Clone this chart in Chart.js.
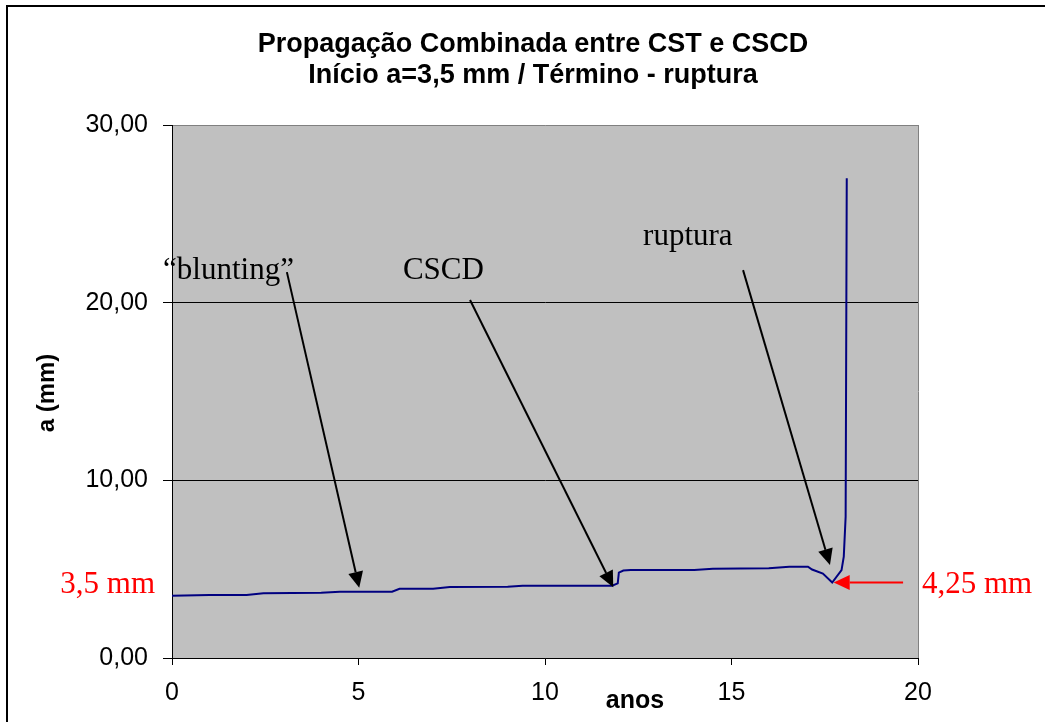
<!DOCTYPE html>
<html>
<head>
<meta charset="utf-8">
<script src="https://cdn.jsdelivr.net/npm/chart.js@4.4.1/dist/chart.umd.min.js"></script>
<style>
  html, body { margin: 0; padding: 0; background: #fff; }
  canvas { display: block; }
</style>
</head>
<body>
<canvas id="grafico" width="1045" height="722"></canvas>
<script>
// tempo (anos) e tamanho da trinca a (mm)
const anos = [0, 1.0, 2.0, 2.45, 4.0, 4.5, 5.9, 6.1, 7.0, 7.45, 9.0, 9.4, 11.8, 11.95, 11.98, 12.1, 12.3, 14.0, 14.5, 16.0, 16.55, 17.05, 17.16, 17.45, 17.7, 17.95, 18.01, 18.06, 18.09]
const trinca = [3.5, 3.55, 3.55, 3.65, 3.67, 3.73, 3.73, 3.9, 3.9, 4.0, 4.01, 4.07, 4.07, 4.2, 4.8, 4.92, 4.95, 4.95, 5.03, 5.05, 5.14, 5.14, 4.98, 4.75, 4.25, 4.95, 5.7, 7.95, 27.0]

const ticksX = [0, 5, 10, 15, 20]
const ticksY = [0, 10, 20, 30]

const titulo = ['Propagação Combinada entre CST e CSCD', 'Início a=3,5 mm / Término - ruptura']

const aInicial = 3.5
const aRuptura = 4.25

// setas pretas: texto, ponto de partida e ponta (em unidades dos eixos)
const setas = [
  { texto: '“blunting”', tx: -0.24, ty: 21.33, x0: 3.08, y0: 21.72, x1: 5.02, y1: 3.95 },
  { texto: 'CSCD', tx: 6.19, ty: 21.33, x0: 7.99, y0: 20.15, x1: 11.83, y1: 3.98 },
  { texto: 'ruptura', tx: 12.63, ty: 23.24, x0: 15.31, y0: 21.83, x1: 17.64, y1: 5.23 }
]

const sans = '"Liberation Sans", Arial, sans-serif'
const serif = '"Liberation Serif", "Times New Roman", serif'

function virgula(v, casas) {
  return v.toFixed(casas).replace('.', ',')
}

function seta(ctx, x0, y0, x1, y1, cor) {
  const ang = Math.atan2(y1 - y0, x1 - x0)
  const comp = 16, meia = 7.5
  const bx = x1 - comp * Math.cos(ang), by = y1 - comp * Math.sin(ang)
  ctx.strokeStyle = cor
  ctx.fillStyle = cor
  ctx.lineWidth = 2
  ctx.beginPath()
  ctx.moveTo(x0, y0)
  ctx.lineTo(bx, by)
  ctx.stroke()
  ctx.beginPath()
  ctx.moveTo(x1, y1)
  ctx.lineTo(bx + meia * Math.sin(ang), by - meia * Math.cos(ang))
  ctx.lineTo(bx - meia * Math.sin(ang), by + meia * Math.cos(ang))
  ctx.closePath()
  ctx.fill()
}

const fundo = {
  id: 'fundo',
  beforeDraw(chart) {
    const { ctx, chartArea: a } = chart
    ctx.save()
    ctx.fillStyle = '#c0c0c0'
    ctx.fillRect(a.left, a.top, a.right - a.left, a.bottom - a.top)
    ctx.restore()
  },
  afterDraw(chart) {
    const { ctx, chartArea: a, scales } = chart
    const sx = scales.x, sy = scales.y
    ctx.save()

    // moldura externa
    ctx.strokeStyle = '#000'
    ctx.lineWidth = 2
    ctx.beginPath()
    ctx.moveTo(7, chart.height)
    ctx.lineTo(7, 6)
    ctx.lineTo(chart.width, 6)
    ctx.stroke()

    // borda direita da área do gráfico
    ctx.strokeStyle = '#808080'
    ctx.lineWidth = 1
    ctx.beginPath()
    ctx.moveTo(a.right + 0.5, a.top)
    ctx.lineTo(a.right + 0.5, a.bottom)
    ctx.stroke()

    // título
    ctx.fillStyle = '#000'
    ctx.textAlign = 'center'
    ctx.textBaseline = 'middle'
    ctx.font = 'bold 27px ' + sans
    ctx.fillText(titulo[0], 533, 45)
    ctx.fillText(titulo[1], 533, 76)

    // títulos dos eixos
    ctx.font = 'bold 25px ' + sans
    ctx.fillText('anos', 635, 701)
    ctx.save()
    ctx.translate(47, 393)
    ctx.rotate(-Math.PI / 2)
    ctx.font = 'bold 24px ' + sans
    ctx.fillText('a (mm)', 0, 0)
    ctx.restore()

    // anotações com setas
    ctx.textAlign = 'left'
    ctx.textBaseline = 'alphabetic'
    ctx.font = '31px ' + serif
    setas.forEach(s => {
      ctx.fillStyle = '#000'
      ctx.fillText(s.texto, sx.getPixelForValue(s.tx), sy.getPixelForValue(s.ty))
      seta(ctx, sx.getPixelForValue(s.x0), sy.getPixelForValue(s.y0),
        sx.getPixelForValue(s.x1), sy.getPixelForValue(s.y1), '#000')
    })

    // valores inicial e de ruptura
    ctx.fillStyle = '#ff0000'
    ctx.textAlign = 'right'
    ctx.fillText(virgula(aInicial, 1) + ' mm', a.left - 17, 593)
    ctx.textAlign = 'left'
    ctx.fillText(virgula(aRuptura, 2) + ' mm', a.right + 4, 593)
    const yr = sy.getPixelForValue(aRuptura)
    seta(ctx, sx.getPixelForValue(19.6), yr, sx.getPixelForValue(17.74), yr, '#ff0000')

    ctx.restore()
  }
}

new Chart(document.getElementById('grafico'), {
  type: 'scatter',
  data: {
    datasets: [{
      data: anos.map((x, i) => ({ x, y: trinca[i] })),
      showLine: true,
      borderColor: '#000080',
      borderWidth: 2,
      pointRadius: 0,
      tension: 0
    }]
  },
  options: {
    responsive: false,
    animation: false,
    devicePixelRatio: 1,
    layout: { padding: { top: 125, right: 127, left: 0, bottom: 0 } },
    plugins: {
      legend: { display: false },
      tooltip: { enabled: false }
    },
    scales: {
      x: {
        type: 'linear',
        min: 0,
        max: 20,
        afterFit: s => { s.height = 64 },
        afterBuildTicks: s => { s.ticks = ticksX.map(v => ({ value: v })) },
        border: { display: true, color: '#000', width: 1 },
        grid: { drawOnChartArea: false, drawTicks: true, tickLength: 7, tickColor: '#000' },
        ticks: {
          padding: 13,
          color: '#000',
          font: { family: sans, size: 25 },
          maxRotation: 0,
          callback: v => String(v)
        }
      },
      y: {
        type: 'linear',
        min: 0,
        max: 30,
        afterFit: s => { s.width = 172 },
        afterBuildTicks: s => { s.ticks = ticksY.map(v => ({ value: v })) },
        border: { display: true, color: '#000', width: 1 },
        grid: {
          color: c => (c.tick && c.tick.value === 30 ? '#808080' : '#000'),
          lineWidth: 1,
          drawTicks: true,
          tickLength: 9,
          tickColor: '#000'
        },
        ticks: {
          padding: 15,
          color: '#000',
          font: { family: sans, size: 25 },
          callback: v => virgula(v, 2)
        }
      }
    }
  },
  plugins: [fundo]
})
</script>
</body>
</html>
